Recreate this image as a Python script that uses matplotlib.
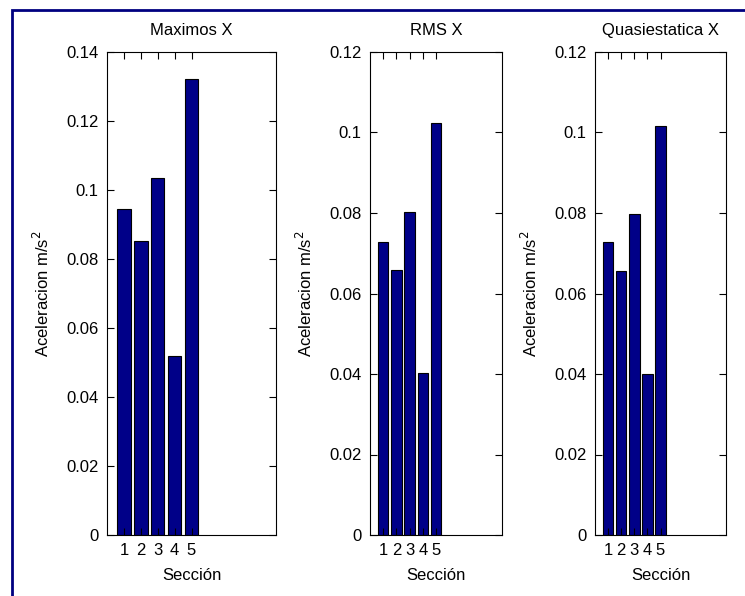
import matplotlib.pyplot as plt
from matplotlib.patches import Rectangle

secciones = [1, 2, 3, 4, 5]
maximos_x = [0.0945, 0.0852, 0.1036, 0.0518, 0.1323]
rms_x = [0.0729, 0.0659, 0.0802, 0.0403, 0.1024]
quasi_x = [0.0728, 0.0655, 0.0798, 0.0400, 0.1017]

titulos = ["Maximos X", "RMS X", "Quasiestatica X"]
series = [maximos_x, rms_x, quasi_x]
ylims = [0.14, 0.12, 0.12]

plt.rcParams["font.family"] = ["Liberation Sans", "DejaVu Sans"]
plt.rcParams["font.size"] = 12

fig = plt.figure(figsize=(7.45, 5.96), dpi=100)
W, H = 745, 596

# panel positions in pixels (left, right)
cajas = [(107, 276), (370, 502), (595, 726)]
top, bottom = 52, 535

for (x0, x1), titulo, vals, ymax in zip(cajas, titulos, series, ylims):
    ax = fig.add_axes([x0 / W, 1 - bottom / H, (x1 - x0) / W, (bottom - top) / H])
    ax.bar(secciones, vals, width=0.8, color="#000088", edgecolor="black", linewidth=0.8)
    ax.set_xlim(0, 10)
    ax.set_ylim(0, ymax)
    ax.set_xticks(secciones)
    n = round(ymax / 0.02)
    ticks = [round(i * 0.02, 2) for i in range(n + 1)]
    ax.set_yticks(ticks)
    ax.set_yticklabels(["0"] + [f"{t:g}" for t in ticks[1:]])
    ax.tick_params(direction="in", top=True, right=True, length=5, width=0.8, pad=6)
    ax.set_title(titulo, fontsize=12, pad=12)
    ax.set_xlabel("Sección", labelpad=7)
    ax.set_ylabel("Aceleracion m/s$^2$", labelpad=10)
    for s in ax.spines.values():
        s.set_linewidth(0.8)

# blue frame around the figure
fig.patches.append(Rectangle((12 / W, -0.1), 1.2, 1 - 10 / H + 0.1,
                             transform=fig.transFigure, fill=False,
                             edgecolor="#000080", linewidth=2))

fig.savefig("out.png", dpi=100)
